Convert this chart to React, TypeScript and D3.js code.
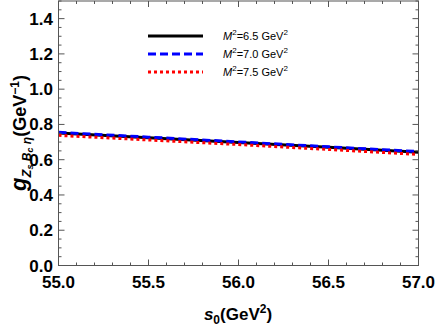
import React from "react";
import * as d3 from "d3";

const s0Values = [55.0, 55.5, 56.0, 56.5, 57.0];
const seriesM65 = [0.752, 0.725, 0.698, 0.670, 0.642];
const seriesM70 = [0.755, 0.728, 0.701, 0.673, 0.646];
const seriesM75 = [0.738, 0.712, 0.686, 0.658, 0.630];
const legendLabels = ["6.5", "7.0", "7.5"];
const xTicks = [55.0, 55.5, 56.0, 56.5, 57.0];
const yTicks = [0, 0.2, 0.4, 0.6, 0.8, 1.0, 1.2, 1.4];

const W = 436, H = 327;
const L = 58.5, R = 418.5, T = 1, B = 265.5;

export default function App() {
  const x = d3.scaleLinear().domain([55, 57]).range([L, R]);
  const y = d3.scaleLinear().domain([0, 1.5]).range([B, T]);
  const line = d3.line<number>().x((_, i) => x(s0Values[i])).y((d) => y(d));
  const series = [
    { data: seriesM65, color: "#000", dash: "none" },
    { data: seriesM70, color: "#0000ff", dash: "8,4" },
    { data: seriesM75, color: "#ff0000", dash: "3,3" },
  ];
  const xMinor = d3.range(0, 21).map((i) => 55 + i * 0.1);
  const yMinor = d3.range(0, 31).map((i) => i * 0.05);
  const isMajorX = (v: number) => Math.abs(v * 2 - Math.round(v * 2)) < 1e-6;
  const isMajorY = (v: number) => Math.abs(v * 5 - Math.round(v * 5)) < 1e-6;
  const fmt = d3.format(".1f");
  const font = "'Liberation Sans', Arial, sans-serif";
  const axisColor = "#555";
  return (
    <svg width={W} height={H} style={{ position: "absolute", left: 0, top: 0 }} fontFamily={font}>
      <rect x={0} y={0} width={W} height={H} fill="#fff" />
      {series.map((s, i) => (
        <path key={i} d={line(s.data) || ""} fill="none" stroke={s.color} strokeWidth={3} strokeDasharray={s.dash} />
      ))}
      <rect x={L} y={T} width={R - L} height={B - T} fill="none" stroke={axisColor} strokeWidth={1} />
      {xMinor.map((v, i) => {
        const len = isMajorX(v) ? 6 : 3;
        return (
          <g key={"xt" + i}>
            <line x1={x(v)} x2={x(v)} y1={B} y2={B - len} stroke={axisColor} />
            <line x1={x(v)} x2={x(v)} y1={T} y2={T + len} stroke={axisColor} />
          </g>
        );
      })}
      {yMinor.map((v, i) => {
        const len = isMajorY(v) ? 6 : 3;
        return (
          <g key={"yt" + i}>
            <line x1={L} x2={L + len} y1={y(v)} y2={y(v)} stroke={axisColor} />
            <line x1={R} x2={R - len} y1={y(v)} y2={y(v)} stroke={axisColor} />
          </g>
        );
      })}
      {xTicks.map((v, i) => (
        <text key={"xl" + i} x={x(v)} y={288} textAnchor="middle" fontSize={17} fontWeight="bold">
          {fmt(v)}
        </text>
      ))}
      {yTicks.map((v, i) => (
        <text key={"yl" + i} x={53} y={y(v) + 6} textAnchor="end" fontSize={17} fontWeight="bold">
          {fmt(v)}
        </text>
      ))}
      <text x={238} y={320} textAnchor="middle" fontSize={17} fontWeight="bold">
        <tspan fontStyle="italic">s</tspan>
        <tspan fontSize={12} dy={4}>0</tspan>
        <tspan dy={-4}>(GeV</tspan>
        <tspan fontSize={12} dy={-7}>2</tspan>
        <tspan dy={7}>)</tspan>
      </text>
      <text transform="translate(26,133) rotate(-90)" textAnchor="middle" fontSize={18} fontWeight="bold">
        <tspan fontStyle="italic" fontSize={22}>g</tspan>
        <tspan fontStyle="italic" fontSize={13} dy={5}>Z</tspan>
        <tspan fontStyle="italic" fontSize={9} dy={2}>s</tspan>
        <tspan fontStyle="italic" fontSize={12} dy={-2}> B</tspan>
        <tspan fontStyle="italic" fontSize={9} dy={2}>c</tspan>
        <tspan fontStyle="italic" fontSize={12} dy={-2}> η</tspan>
        <tspan dy={-5}>(GeV</tspan>
        <tspan fontSize={12} dy={-7}>−1</tspan>
        <tspan dy={7}>)</tspan>
      </text>
      {series.map((s, i) => {
        const ly = 36 + i * 18;
        return (
          <g key={"lg" + i}>
            <line x1={148} x2={203} y1={ly} y2={ly} stroke={s.color} strokeWidth={3} strokeDasharray={s.dash} />
            <text x={223} y={ly + 4} fontSize={11}>
              <tspan fontStyle="italic">M</tspan>
              <tspan fontSize={8} dy={-5}>2</tspan>
              <tspan dy={5}>={legendLabels[i]} GeV</tspan>
              <tspan fontSize={8} dy={-5}>2</tspan>
            </text>
          </g>
        );
      })}
    </svg>
  );
}
